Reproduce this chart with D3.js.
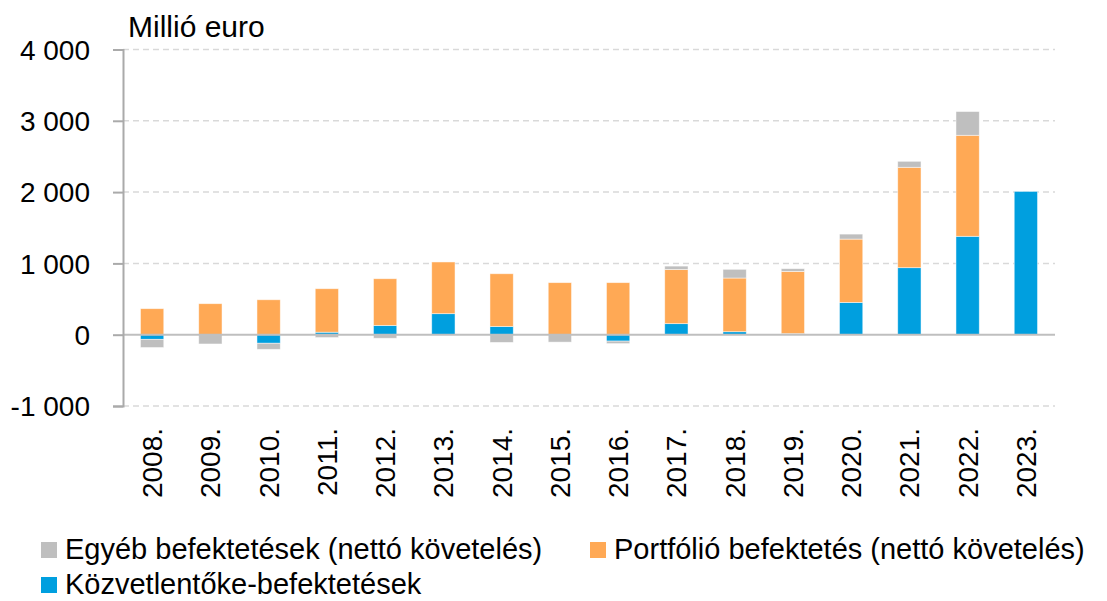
<!DOCTYPE html>
<html>
<head>
<meta charset="utf-8">
<script src="https://cdn.jsdelivr.net/npm/d3@7"></script>
<style>
  body { margin: 0; background: #fff; }
  text { font-family: "Liberation Sans", Arial, sans-serif; fill: #000; }
</style>
</head>
<body>
<svg id="viz"></svg>
<script>
// data (million euro)
const years = ["2008.", "2009.", "2010.", "2011.", "2012.", "2013.", "2014.", "2015.",
               "2016.", "2017.", "2018.", "2019.", "2020.", "2021.", "2022.", "2023."];
const direct = [-65, 0, -120, 35, 130, 295, 115, 0, -90, 155, 42, 15, 453, 940, 1380, 2010];
const portfolio = [365, 435, 490, 610, 655, 725, 740, 730, 730, 760, 753, 873, 888, 1408, 1417, 0];
const other = [-115, -130, -85, -40, -50, 0, -108, -104, -35, 47, 122, 38, 70, 84, 333, 0];
const yTicks = [-1000, 0, 1000, 2000, 3000, 4000];

const seriesNames = ["Közvetlentőke-befektetések",
                     "Portfólió befektetés (nettó követelés)",
                     "Egyéb befektetések (nettó követelés)"];
const colors = ["#009FDF", "#FFA955", "#BFBFBF"];

const width = 1107, height = 601;
const svg = d3.select("#viz").attr("width", width).attr("height", height);

// table for the stack
const rows = years.map((y, i) => ({year: y, d: direct[i], p: portfolio[i], o: other[i]}));
const stack = d3.stack().keys(["d", "p", "o"]).offset(d3.stackOffsetDiverging);
const layers = stack(rows);

const x = d3.scaleBand().domain(years).range([123, 1055]).paddingInner(0.6).paddingOuter(0.3);
const y = d3.scaleLinear().domain([-1000, 4000]).range([406, 49.5]);

// hungarian style numbers: space as thousands separator, plain hyphen minus
const fmt = d => d3.format(",")(Math.abs(d)).replace(/,/g, " ");
const label = d => (d < 0 ? "-" : "") + fmt(d);

// gridlines
svg.append("g")
   .selectAll("line")
   .data(yTicks.filter(t => t !== 0))
   .enter().append("line")
   .attr("x1", 123).attr("x2", 1055)
   .attr("y1", d => y(d)).attr("y2", d => y(d))
   .attr("stroke", "#d9d9d9")
   .attr("stroke-width", 1.5)
   .attr("stroke-dasharray", "6,4");

// bars
svg.append("g")
   .selectAll("g")
   .data(layers)
   .enter().append("g")
   .attr("fill", (d, i) => colors[i])
   .selectAll("rect")
   .data(d => d)
   .enter().append("rect")
   .attr("x", d => x(d.data.year))
   .attr("width", x.bandwidth())
   .attr("y", d => y(Math.max(d[0], d[1])))
   .attr("height", d => Math.abs(y(d[0]) - y(d[1])))
   .attr("stroke", "#fff")
   .attr("stroke-opacity", 0.6)
   .attr("stroke-width", 0.8);

// zero line
svg.append("line")
   .attr("x1", 123).attr("x2", 1055)
   .attr("y1", y(0)).attr("y2", y(0))
   .attr("stroke", "#bfbfbf")
   .attr("stroke-width", 2);

// y axis
const yAxis = d3.axisLeft(y)
   .tickValues(yTicks)
   .tickSize(10)
   .tickPadding(8)
   .tickFormat(label);

const yg = svg.append("g").attr("transform", "translate(123,0)").call(yAxis);
yg.select(".domain").attr("stroke", "#aaaaaa").attr("stroke-width", 2);
yg.selectAll(".tick line").attr("stroke", "#aaaaaa").attr("stroke-width", 2);
yg.selectAll(".tick text")
  .style("font-size", "28px")
  .attr("x", -33)
  .attr("dy", "0.35em");

// x labels, rotated
svg.append("g")
   .selectAll("text")
   .data(years)
   .enter().append("text")
   .attr("transform", d => "translate(" + (x(d) + x.bandwidth() / 2 + 10) + ",428) rotate(-90)")
   .attr("text-anchor", "end")
   .style("font-size", "28px")
   .text(d => d);

// unit label
svg.append("text")
   .attr("x", 128).attr("y", 37)
   .style("font-size", "30px")
   .text("Millió euro");

// legend
const legendItems = [
  {name: seriesNames[2], color: colors[2], x: 41, y: 542},
  {name: seriesNames[1], color: colors[1], x: 590, y: 542},
  {name: seriesNames[0], color: colors[0], x: 41, y: 577}
];
const lg = svg.append("g").selectAll("g").data(legendItems).enter().append("g");
lg.append("rect")
  .attr("x", d => d.x).attr("y", d => d.y)
  .attr("width", 16).attr("height", 16)
  .attr("fill", d => d.color);
lg.append("text")
  .attr("x", d => d.x + 24).attr("y", d => d.y + 17)
  .style("font-size", "29px")
  .text(d => d.name);
</script>
</body>
</html>
